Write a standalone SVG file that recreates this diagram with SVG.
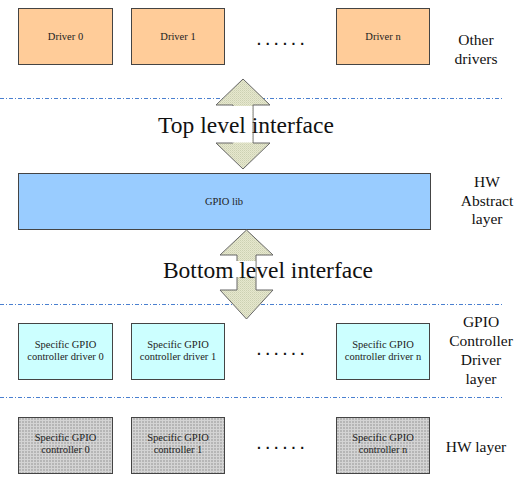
<svg xmlns="http://www.w3.org/2000/svg" width="522" height="480" viewBox="0 0 522 480">
<style>
.box{stroke:#444;stroke-width:1}
.drv{fill:#FFCC99}
.lib{fill:#99CCFF}
.ctl{fill:#CCFFFF}
.hw{fill:url(#mesh)}
.bt{font-family:"Liberation Serif","Times New Roman",serif;font-size:10.5px;fill:#222;text-anchor:middle}
.lbl{font-family:"Liberation Serif","Times New Roman",serif;font-size:15.5px;fill:#111;text-anchor:middle}
.big{font-family:"Liberation Serif","Times New Roman",serif;font-size:23.5px;fill:#111;text-anchor:middle}
.dots{font-family:"Liberation Sans",Arial,sans-serif;font-size:14px;font-weight:bold;fill:#111;letter-spacing:4.75px}
.sep{stroke:#4A80D0;stroke-width:1;stroke-dasharray:4 2 1 2;fill:none}
.arr{fill:url(#dither);stroke:#666;stroke-width:1}
</style>
<defs>
<pattern id="dither" width="2" height="2" patternUnits="userSpaceOnUse"><rect width="2" height="2" fill="#E6E8CE"/><rect width="1" height="1" fill="#CCD0B2"/><rect x="1" y="1" width="1" height="1" fill="#D8DABE"/></pattern>
<pattern id="mesh" width="3" height="3" patternUnits="userSpaceOnUse"><rect width="3" height="3" fill="#B6B6B6"/><rect width="3" height="1" fill="#D4D4D4"/><rect width="1" height="3" fill="#D4D4D4"/></pattern>
</defs>
<rect width="522" height="480" fill="#fff"/>

<g id="separators">
<line class="sep" x1="0" y1="98.5" x2="504" y2="98.5"/>
<line class="sep" x1="0" y1="304.5" x2="504" y2="304.5"/>
<line class="sep" x1="0" y1="397.5" x2="504" y2="397.5"/>
</g>

<g id="driver0"><rect class="box drv" x="18.5" y="8.5" width="94" height="56"/><text class="bt" x="65.5" y="40">Driver 0</text></g>
<g id="driver1"><rect class="box drv" x="131.5" y="8.5" width="93" height="56"/><text class="bt" x="178" y="40">Driver 1</text></g>
<text class="dots" x="257" y="44.5">......</text>
<g id="drivern"><rect class="box drv" x="336.5" y="8.5" width="93" height="56"/><text class="bt" x="383" y="40">Driver n</text></g>
<g id="label-other"><text class="lbl" x="476" y="44.5">Other</text><text class="lbl" x="476" y="63.5">drivers</text></g>

<g id="gpiolib"><rect class="box lib" x="18.5" y="173.5" width="412" height="56"/><text class="bt" x="224" y="205">GPIO lib</text></g>
<g id="label-hwabs"><text class="lbl" x="487" y="186.5">HW</text><text class="lbl" x="487" y="205.5">Abstract</text><text class="lbl" x="487" y="224">layer</text></g>

<g id="ctl0"><rect class="box ctl" x="18.5" y="323.5" width="94" height="56"/><text class="bt" x="65.5" y="347.5">Specific GPIO</text><text class="bt" x="65.5" y="359.5">controller driver 0</text></g>
<g id="ctl1"><rect class="box ctl" x="131.5" y="323.5" width="93" height="56"/><text class="bt" x="178" y="347.5">Specific GPIO</text><text class="bt" x="178" y="359.5">controller driver 1</text></g>
<text class="dots" x="257" y="354.5">......</text>
<g id="ctln"><rect class="box ctl" x="336.5" y="323.5" width="93" height="56"/><text class="bt" x="383" y="347.5">Specific GPIO</text><text class="bt" x="383" y="359.5">controller driver n</text></g>
<g id="label-ctl"><text class="lbl" x="481" y="327">GPIO</text><text class="lbl" x="481" y="346">Controller</text><text class="lbl" x="481" y="365">Driver</text><text class="lbl" x="481" y="384">layer</text></g>

<g id="hw0"><rect class="box hw" x="18.5" y="417.5" width="94" height="56"/><text class="bt" x="65.5" y="440.5">Specific GPIO</text><text class="bt" x="65.5" y="452.5">controller 0</text></g>
<g id="hw1"><rect class="box hw" x="131.5" y="417.5" width="93" height="56"/><text class="bt" x="178" y="440.5">Specific GPIO</text><text class="bt" x="178" y="452.5">controller 1</text></g>
<text class="dots" x="257" y="449">......</text>
<g id="hwn"><rect class="box hw" x="336.5" y="417.5" width="93" height="56"/><text class="bt" x="383" y="440.5">Specific GPIO</text><text class="bt" x="383" y="452.5">controller n</text></g>
<g id="label-hw"><text class="lbl" x="476" y="452">HW layer</text></g>

<g id="connectors">
<polygon class="arr" points="243,79 270,105 253,105 253,143 270,143 243,169 216,143 233,143 233,105 216,105"/>
<polygon class="arr" points="246.5,230 273,255 256,255 256,290 273,290 246.5,319 220,290 237,290 237,255 220,255"/>
</g>

<g id="top-interface">
<rect x="232" y="106" width="20.4" height="36.5" fill="#fff"/>
<text class="big" x="246" y="133">Top level interface</text>
</g>
<g id="bottom-interface">
<rect x="236" y="261" width="19.4" height="16" fill="#fff"/>
<text class="big" x="268" y="278">Bottom level interface</text>
</g>
</svg>
